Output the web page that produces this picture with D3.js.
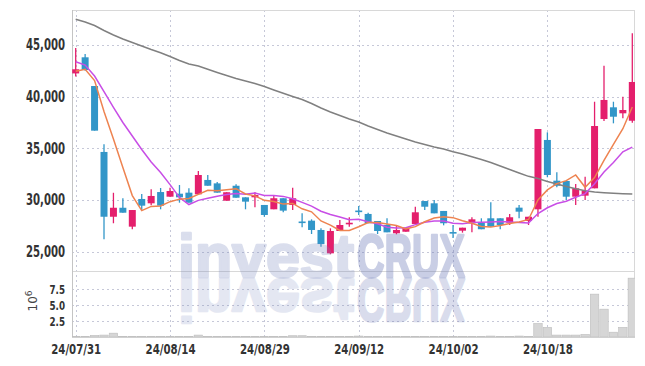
<!DOCTYPE html>
<html><head><meta charset="utf-8">
<script src="https://cdn.jsdelivr.net/npm/d3@7"></script>
<style>
body{margin:0;background:#fff;}
svg{display:block;}
.ax text{font-family:"DejaVu Sans Condensed","DejaVu Sans",sans-serif;font-weight:bold;fill:#333;}
</style></head><body>
<svg id="c" width="645" height="366"></svg>
<script>
const dates = ["24/07/31","24/08/01","24/08/02","24/08/05","24/08/06","24/08/07","24/08/08","24/08/09","24/08/12","24/08/13",
"24/08/14","24/08/16","24/08/19","24/08/20","24/08/21","24/08/22","24/08/23","24/08/26","24/08/27","24/08/28",
"24/08/29","24/08/30","24/09/02","24/09/03","24/09/04","24/09/05","24/09/06","24/09/09","24/09/10","24/09/11",
"24/09/12","24/09/13","24/09/19","24/09/20","24/09/23","24/09/24","24/09/25","24/09/26","24/09/27","24/09/30",
"24/10/02","24/10/04","24/10/07","24/10/08","24/10/10","24/10/11","24/10/14","24/10/15","24/10/16","24/10/17",
"24/10/18","24/10/21","24/10/22","24/10/23","24/10/24","24/10/25","24/10/28","24/10/29","24/10/30","24/10/31"];
const open = [42250,43810,41030,34650,28380,29250,27420,30100,29680,30770,30320,30610,30710,30550,31940,31610,29930,31380,30260,30260,
29520,29100,30170,29520,27920,28000,27100,24840,27000,27650,28980,28650,27970,27580,26780,26930,27680,29900,29680,28940,
26900,27030,27750,27800,28230,28230,27800,29260,27970,29100,35810,31870,31840,30320,30420,31130,37840,38970,38390,37670];
const high = [44700,44130,41030,35390,30700,30170,29030,30580,31040,31160,31190,31450,31130,32810,32420,31740,30750,31520,30260,30750,
29520,30390,30170,31190,28710,28130,27260,27260,28070,28330,29420,28770,27970,28230,27480,27320,29350,29900,30000,28940,
27580,27320,28330,28230,29780,28230,28650,29520,28380,36870,36550,32680,31840,31550,32260,39510,43000,39510,40000,46130];
const low = [41950,42500,36710,26200,27750,28770,27170,29030,29490,29100,30320,29740,29740,30550,31380,30710,29930,30220,29100,29290,
28380,29100,28810,29030,27360,26710,25480,24750,27000,27420,28550,27750,26710,26870,26680,26930,27680,29030,28710,27550,
26320,26840,26870,27170,27420,27170,27580,28230,27580,28380,32200,31230,30000,29520,30000,31130,37650,37420,37910,37480];
const close = [42650,42580,36710,28380,29250,28770,29030,29450,30390,29450,30870,30260,29740,32420,31380,30710,30750,30220,29840,30480,
28550,30170,28970,30170,27870,27100,25740,27000,27580,27800,28940,27750,27000,26870,27100,27320,28810,29350,28710,27750,
26840,27320,28130,27170,27420,27580,28330,28870,28380,36870,32420,31380,30320,31130,30900,37160,39680,38060,38710,41420];
const volume = [0.05,0.1,0.25,0.3,0.6,0.1,0.05,0.05,0.05,0.05,0.05,0.05,0.05,0.3,0.05,0.05,0.05,0.05,0.05,0.05,
0.05,0.05,0.05,0.2,0.2,0.05,0.05,0.05,0.05,0.05,0.15,0.05,0.05,0.05,0.05,0.05,0.1,0.05,0.05,0.05,
0.05,0.05,0.05,0.05,0.15,0.05,0.05,0.15,0.05,2.1,1.5,0.3,0.3,0.3,0.4,6.7,4.35,0.75,1.5,9.2];
const ma5 = [42450,42650,41560,38560,35914,33138,30428,28976,29378,29418,29838,30084,30142,30548,30934,30902,31000,31096,30580,30400,
29968,29852,29602,29668,29146,28856,27970,27576,27058,27044,27412,27814,27814,27672,27532,27208,27420,27890,28258,28388,
28292,27994,27750,27442,27376,27524,27726,27874,28116,30006,30974,31584,31874,32424,31230,32178,33838,35386,36902,39006];
const ma10 = [43380,43060,42000,40480,38970,37500,36190,34890,33680,32666,31488,30256,29559,29963,30176,30370,30542,30619,30564,30667,
30435,30426,30349,30124,29773,29412,28911,28589,28363,28095,28134,27892,27695,27365,27288,27310,27617,27852,27965,27960,
27750,27707,27820,27850,27882,27908,27860,27812,27779,28691,29249,29655,29874,30270,30618,31576,32711,33630,34663,35118];
const maLong = [47490,47230,46890,46400,45970,45580,45240,44900,44560,44250,43890,43500,43160,42970,42650,42340,42050,41760,41520,41270,
40980,40650,40330,40020,39730,39340,38900,38520,38180,37840,37550,37160,36820,36480,36190,35900,35610,35370,35130,34940,
34670,34450,34190,33920,33630,33290,32950,32610,32290,32080,31790,31550,31310,31090,30890,30770,30710,30650,30610,30580];
const priceTicks = [25000,30000,35000,40000,45000];
const volTicks = [2.5,5.0,7.5];
const dateTicks = ["24/07/31","24/08/14","24/08/29","24/09/12","24/10/02","24/10/18"];

const svg = d3.select("#c");
const L=72,R=635,T=10,MB=271,VB=337;
const x = d3.scalePoint().domain(dates).range([75.7,632.3]);
const step = x.step();
const bw = step*0.74;
const y = d3.scaleLinear().domain([23226,48387]).range([270,10]);
const vy = d3.scaleLinear().domain([0,10.16]).range([VB,272]);
const upC="#e41f6c", dnC="#3296c8";

const defs = svg.append("defs");
defs.append("clipPath").attr("id","cm").append("rect").attr("x",L).attr("y",T).attr("width",R-L).attr("height",MB-T);
defs.append("clipPath").attr("id","cv").append("rect").attr("x",L).attr("y",MB).attr("width",R-L).attr("height",VB-MB);

// grid
const grid = svg.append("g").attr("stroke","#c6c8d8").attr("stroke-dasharray","2,3").attr("stroke-width",1);
priceTicks.forEach(t=>grid.append("line").attr("x1",L).attr("x2",R).attr("y1",Math.round(y(t))+0.5).attr("y2",Math.round(y(t))+0.5));
volTicks.forEach(t=>grid.append("line").attr("x1",L).attr("x2",R).attr("y1",Math.round(vy(t))+0.5).attr("y2",Math.round(vy(t))+0.5));
dateTicks.forEach(d=>grid.append("line").attr("x1",Math.round(x(d))+0.5).attr("x2",Math.round(x(d))+0.5).attr("y1",T).attr("y2",VB));

// frame
const fr = svg.append("g").attr("stroke","#d8d8d8").attr("fill","none");
fr.append("line").attr("x1",L).attr("x2",R).attr("y1",T+0.5).attr("y2",T+0.5);
fr.append("line").attr("x1",L).attr("x2",R).attr("y1",MB+0.5).attr("y2",MB+0.5);
fr.append("line").attr("x1",R-0.5).attr("x2",R-0.5).attr("y1",T).attr("y2",VB);
fr.append("line").attr("x1",L+0.5).attr("x2",L+0.5).attr("y1",T).attr("y2",VB).attr("stroke","#c4c4c4");
fr.append("line").attr("x1",L).attr("x2",R).attr("y1",VB+0.5).attr("y2",VB+0.5).attr("stroke","#d0d0d0");

// volume bars
svg.append("g").attr("clip-path","url(#cv)").selectAll("rect").data(dates).join("rect")
  .attr("x",d=>x(d)-step/2+0.5).attr("width",step-1)
  .attr("y",(d,i)=>vy(volume[i])).attr("height",(d,i)=>VB-vy(volume[i]))
  .attr("fill","#d6d6d6").attr("stroke","#bdbdbd").attr("stroke-width",0.6);

// candles
const cg = svg.append("g").attr("clip-path","url(#cm)");
const data = dates.map((d,i)=>({d,o:open[i],h:high[i],l:low[i],c:close[i]}));
cg.selectAll("line.w").data(data).join("line").attr("class","w")
  .attr("x1",d=>x(d.d)).attr("x2",d=>x(d.d)).attr("y1",d=>y(d.h)).attr("y2",d=>y(d.l))
  .attr("stroke",d=>d.c>=d.o?upC:dnC).attr("stroke-width",1.3);
cg.selectAll("rect.b").data(data).join("rect").attr("class","b")
  .attr("x",d=>x(d.d)-bw/2).attr("width",bw)
  .attr("y",d=>Math.min(y(d.o),y(d.c))).attr("height",d=>Math.max(1.6,Math.abs(y(d.o)-y(d.c))))
  .attr("fill",d=>d.c>=d.o?upC:dnC);

// MA lines
const line = d3.line().x((v,i)=>x(dates[i])).y(v=>y(v));
cg.append("path").datum(maLong).attr("d",line).attr("fill","none").attr("stroke","#808080").attr("stroke-width",1.5);
cg.append("path").datum(ma10).attr("d",line).attr("fill","none").attr("stroke","#c84ee6").attr("stroke-width",1.5);
cg.append("path").datum(ma5).attr("d",line).attr("fill","none").attr("stroke","#ee8350").attr("stroke-width",1.5);

// watermark
const wm = svg.append("g").attr("font-family","'Liberation Sans',Arial,sans-serif").attr("font-weight","bold").attr("font-size",62)
  .attr("stroke-width",2.6).attr("stroke-linejoin","round");
function wmText(g, baseY){
  g.append("g").attr("opacity",0.27).append("text").attr("x",178).attr("y",baseY).attr("textLength",176).attr("lengthAdjust","spacingAndGlyphs")
    .text("invest").attr("fill","rgb(120,135,190)").attr("stroke","rgb(120,135,190)");
  g.append("g").attr("opacity",0.34).append("text").attr("x",357).attr("y",baseY).attr("textLength",108).attr("lengthAdjust","spacingAndGlyphs")
    .text("CRUX").attr("fill","rgb(100,115,180)").attr("stroke","rgb(100,115,180)");
}
wmText(wm, 277);
const wr = wm.append("g").attr("transform","translate(0,557) scale(1,-1)").attr("opacity",0.7);
wmText(wr, 278);

// axes
function squeeze(sel, w){ sel.selectAll("text").attr("textLength",w).attr("lengthAdjust","spacingAndGlyphs"); }
const ya = svg.append("g").attr("class","ax").attr("transform",`translate(${L},0)`)
  .call(d3.axisLeft(y).tickValues(priceTicks).tickFormat(d3.format(",")).tickSize(0).tickPadding(7));
ya.select(".domain").remove(); ya.selectAll("text").attr("font-size",15); squeeze(ya,39);
const va = svg.append("g").attr("class","ax").attr("transform",`translate(${L},0)`)
  .call(d3.axisLeft(vy).tickValues(volTicks).tickFormat(d3.format(".1f")).tickSize(0).tickPadding(7));
va.select(".domain").remove(); va.selectAll("text").attr("font-size",13); squeeze(va,15.5);
const xa = svg.append("g").attr("class","ax").attr("transform",`translate(0,${VB})`)
  .call(d3.axisBottom(x).tickValues(dateTicks).tickSize(0).tickPadding(7));
xa.select(".domain").remove(); xa.selectAll("text").attr("font-size",14); squeeze(xa,50);
xa.selectAll("text").attr("x",-25).attr("text-anchor","start");

const yl = svg.append("text").attr("transform","translate(37,301) rotate(-90)").attr("text-anchor","middle")
  .attr("font-family","'DejaVu Sans',sans-serif").attr("font-size",12).attr("fill","#444");
yl.append("tspan").text("10");
yl.append("tspan").text("6").attr("dy",-5).attr("font-size",9);
</script></body></html>
